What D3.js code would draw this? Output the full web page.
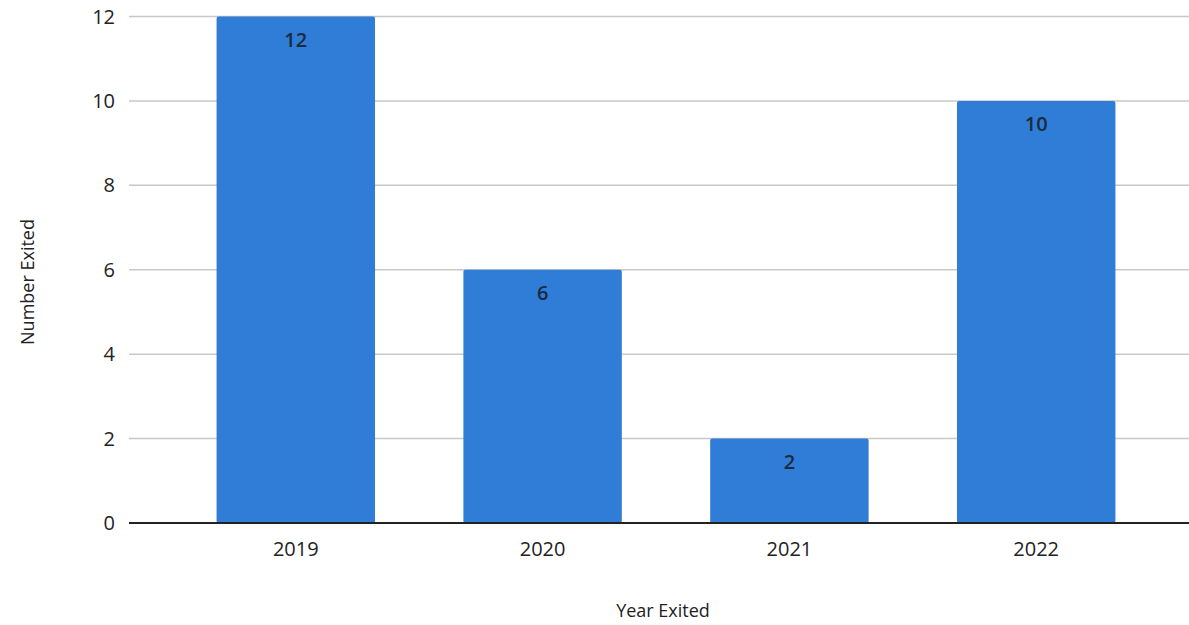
<!DOCTYPE html>
<html>
<head>
<meta charset="utf-8">
<script src="https://cdn.jsdelivr.net/npm/d3@7"></script>
<style>
body { margin: 0; background: #fff; }
text { font-family: "Open Sans", sans-serif; }
</style>
</head>
<body>
<script>
// chart values
var years = ["2019", "2020", "2021", "2022"];
var exited = [12, 6, 2, 10];
var yTicks = [0, 2, 4, 6, 8, 10, 12];

var width = 1189;
var height = 625;

var svg = d3.select("body")
    .append("svg")
    .attr("width", width)
    .attr("height", height);

var xScale = d3.scaleBand()
    .domain(years)
    .range([172.4, 1159.6])
    .paddingInner(0.358)
    .paddingOuter(0.179);

var yScale = d3.scaleLinear()
    .domain([0, 12])
    .range([523, 16.5]);

// gridlines
svg.append("g")
    .selectAll("line.grid")
    .data(yTicks.filter(function(d){ return d > 0; }))
    .enter()
    .append("line")
    .attr("class", "grid")
    .attr("x1", 129)
    .attr("x2", width)
    .attr("y1", function(d){ return yScale(d); })
    .attr("y2", function(d){ return yScale(d); })
    .attr("stroke", "#c8c8c8")
    .attr("stroke-width", 1.5);

// y tick labels
svg.append("g")
    .selectAll("text.ytick")
    .data(yTicks)
    .enter()
    .append("text")
    .attr("class", "ytick")
    .attr("x", 115)
    .attr("y", function(d){ return yScale(d); })
    .attr("dy", "0.35em")
    .attr("text-anchor", "end")
    .attr("font-size", 20)
    .attr("fill", "#222")
    .text(function(d){ return d; });

// bars
svg.append("g")
    .selectAll("rect.bar")
    .data(exited)
    .enter()
    .append("rect")
    .attr("class", "bar")
    .attr("x", function(d, i){ return xScale(years[i]); })
    .attr("y", function(d){ return yScale(d); })
    .attr("width", xScale.bandwidth())
    .attr("height", function(d){ return yScale(0) - yScale(d); })
    .attr("rx", 2)
    .attr("fill", "#2f7dd6");

// value labels
svg.append("g")
    .selectAll("text.val")
    .data(exited)
    .enter()
    .append("text")
    .attr("class", "val")
    .attr("x", function(d, i){ return xScale(years[i]) + xScale.bandwidth() / 2; })
    .attr("y", function(d){ return yScale(d) + 30; })
    .attr("text-anchor", "middle")
    .attr("font-size", 20)
    .attr("font-weight", 600)
    .attr("fill", "#1c2a3f")
    .text(function(d){ return d; });

// baseline
svg.append("line")
    .attr("x1", 129)
    .attr("x2", width)
    .attr("y1", yScale(0))
    .attr("y2", yScale(0))
    .attr("stroke", "#222")
    .attr("stroke-width", 2);

// x tick labels
svg.append("g")
    .selectAll("text.xtick")
    .data(years)
    .enter()
    .append("text")
    .attr("class", "xtick")
    .attr("x", function(d){ return xScale(d) + xScale.bandwidth() / 2; })
    .attr("y", 556)
    .attr("text-anchor", "middle")
    .attr("font-size", 20)
    .attr("fill", "#222")
    .text(function(d){ return d; });

// axis titles
svg.append("text")
    .attr("x", 663)
    .attr("y", 617)
    .attr("text-anchor", "middle")
    .attr("font-size", 18)
    .attr("fill", "#222")
    .text("Year Exited");

svg.append("text")
    .attr("transform", "translate(34,282) rotate(-90)")
    .attr("text-anchor", "middle")
    .attr("font-size", 18)
    .attr("fill", "#222")
    .text("Number Exited");
</script>
</body>
</html>
